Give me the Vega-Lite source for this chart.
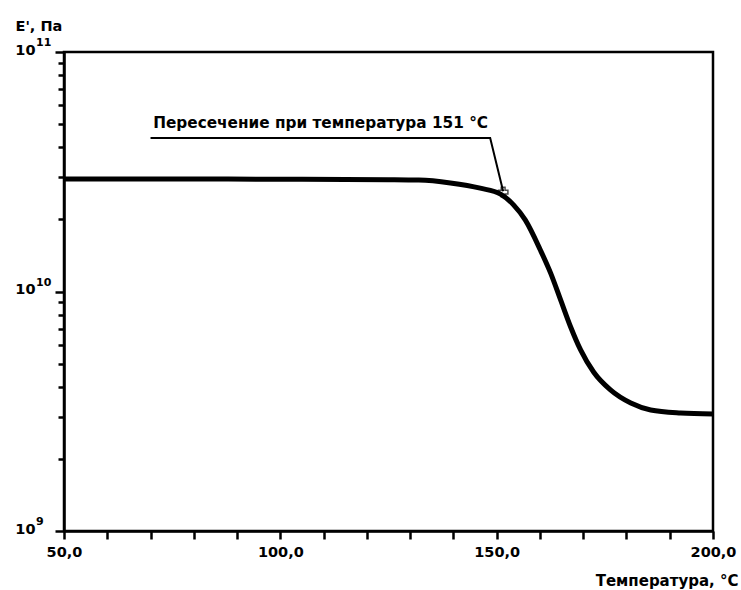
{
  "$schema": "https://vega.github.io/schema/vega-lite/v6.json",
  "width": 649,
  "height": 479,
  "autosize": {"type": "none"},
  "padding": {"left": 64, "top": 52, "right": 28, "bottom": 59},
  "background": "white",
  "config": {
    "view": {"stroke": "black", "strokeWidth": 2.5},
    "font": "DejaVu Sans",
    "axis": {"labelColor": "black", "titleColor": "black", "domainColor": "black", "tickColor": "black", "labelFont": "DejaVu Sans", "titleFont": "DejaVu Sans"}
  },
  "datasets": {
    "curve": [
      {"T": 50, "E": 2.95e10},
      {"T": 80, "E": 2.95e10},
      {"T": 105, "E": 2.94e10},
      {"T": 125, "E": 2.93e10},
      {"T": 132, "E": 2.92e10},
      {"T": 139.3, "E": 2.84e10},
      {"T": 146.2, "E": 2.70e10},
      {"T": 150.9, "E": 2.55e10},
      {"T": 153.9, "E": 2.30e10},
      {"T": 156.6, "E": 1.99e10},
      {"T": 160.1, "E": 1.49e10},
      {"T": 162.5, "E": 1.19e10},
      {"T": 164.8, "E": 9.2e9},
      {"T": 167.1, "E": 7.11e9},
      {"T": 169.4, "E": 5.70e9},
      {"T": 172.4, "E": 4.61e9},
      {"T": 176.3, "E": 3.88e9},
      {"T": 181.0, "E": 3.42e9},
      {"T": 185.6, "E": 3.20e9},
      {"T": 192.5, "E": 3.11e9},
      {"T": 200, "E": 3.08e9}
    ],
    "leader": [
      {"i": 0, "T": 70, "E": 4.37e10},
      {"i": 1, "T": 148.5, "E": 4.37e10},
      {"i": 2, "T": 151.5, "E": 2.62e10}
    ],
    "marker": [{"T": 151.5, "E": 2.6e10}],
    "label": [{"T": 70.6, "E": 4.82e10, "text": "Пересечение при температура 151 °С"}],
    "exponents": [
      {"E": 1e9, "p": "9"},
      {"E": 1e10, "p": "10"},
      {"E": 1e11, "p": "11"}
    ]
  },
  "layer": [
    {
      "data": {"name": "curve"},
      "mark": {"type": "line", "stroke": "black", "strokeWidth": 5, "interpolate": "monotone"},
      "encoding": {
        "x": {
          "field": "T", "type": "quantitative",
          "scale": {"domain": [50, 200], "nice": false, "zero": false},
          "axis": {
            "values": [50, 60, 70, 80, 90, 100, 110, 120, 130, 140, 150, 160, 170, 180, 190, 200],
            "labelExpr": "datum.value % 50 == 0 ? replace(format(datum.value, '.1f'), '.', ',') : ''",
            "grid": false, "tickSize": 8, "tickWidth": 2.5, "domainWidth": 2.5,
            "labelFontSize": 14.5, "labelFontWeight": "bold", "labelFlush": false, "labelOverlap": false, "labelPadding": 6,
            "title": "Температура, °С", "titleX": 674, "titleY": 54, "titleAlign": "right", "titleBaseline": "alphabetic",
            "titleFontSize": 15, "titleFontWeight": "bold"
          }
        },
        "y": {
          "field": "E", "type": "quantitative",
          "scale": {"type": "log", "domain": [1e9, 1e11], "nice": false},
          "axis": {
            "values": [1e9, 2e9, 3e9, 4e9, 5e9, 6e9, 7e9, 8e9, 9e9, 1e10, 2e10, 3e10, 4e10, 5e10, 6e10, 7e10, 8e10, 9e10, 1e11],
            "labelExpr": "datum.value == 1e9 || datum.value == 1e10 || datum.value == 1e11 ? '10' : ''",
            "tickSize": {"condition": {"test": "datum.value == 1e9 || datum.value == 1e10 || datum.value == 1e11", "value": 9}, "value": 6},
            "grid": false, "tickWidth": 2.5, "domainWidth": 2.5,
            "labelFontSize": 14.5, "labelFontWeight": "bold", "labelFlush": false, "labelOverlap": false, "labelPadding": 20,
            "labelBaseline": "middle", "labelOffset": -2,
            "title": "E', Па", "titleAngle": 0, "titleAlign": "left", "titleBaseline": "alphabetic",
            "titleX": -49, "titleY": -22, "titleFontSize": 14.5, "titleFontWeight": "bold"
          }
        }
      }
    },
    {
      "data": {"name": "exponents"},
      "mark": {"type": "text", "align": "left", "baseline": "alphabetic", "fontSize": 11, "fontWeight": "bold", "color": "black", "font": "DejaVu Sans", "dx": -28, "dy": -6},
      "encoding": {
        "x": {"datum": 50, "type": "quantitative"},
        "y": {"field": "E", "type": "quantitative"},
        "text": {"field": "p"}
      }
    },
    {
      "data": {"name": "leader"},
      "mark": {"type": "line", "stroke": "black", "strokeWidth": 2},
      "encoding": {
        "x": {"field": "T", "type": "quantitative"},
        "y": {"field": "E", "type": "quantitative"},
        "order": {"field": "i"}
      }
    },
    {
      "data": {"name": "marker"},
      "mark": {"type": "point", "shape": "cross", "filled": false, "stroke": "black", "strokeWidth": 1.5, "size": 90},
      "encoding": {
        "x": {"field": "T", "type": "quantitative"},
        "y": {"field": "E", "type": "quantitative"}
      }
    },
    {
      "data": {"name": "label"},
      "mark": {"type": "text", "align": "left", "baseline": "alphabetic", "fontSize": 15.3, "fontWeight": "bold", "color": "black", "font": "DejaVu Sans"},
      "encoding": {
        "x": {"field": "T", "type": "quantitative"},
        "y": {"field": "E", "type": "quantitative"},
        "text": {"field": "text"}
      }
    }
  ]
}
